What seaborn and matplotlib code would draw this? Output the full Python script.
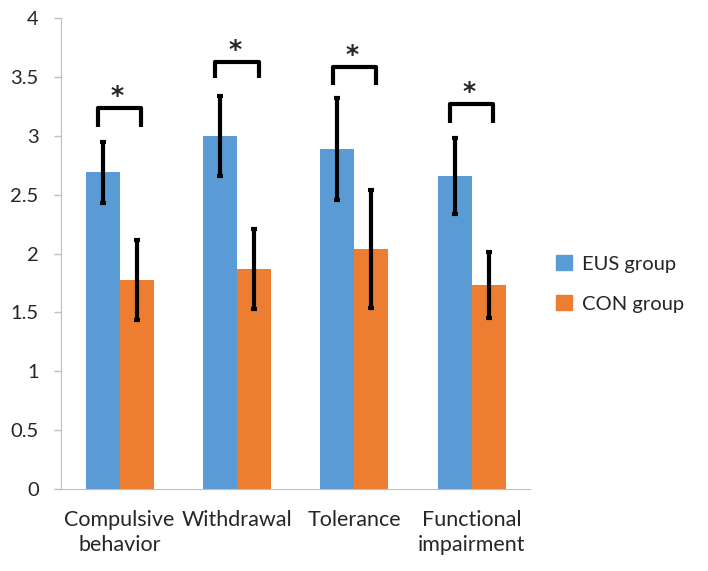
import numpy as np
import pandas as pd
import matplotlib
matplotlib.use("Agg")
import matplotlib.pyplot as plt
import seaborn as sns

categories = ["Compulsive\nbehavior", "Withdrawal", "Tolerance", "Functional\nimpairment"]
groups = ["EUS group", "CON group"]
eus_mean = [2.69, 3.00, 2.89, 2.66]
con_mean = [1.78, 1.87, 2.04, 1.73]
eus_err = [0.26, 0.34, 0.43, 0.32]
con_err = [0.34, 0.34, 0.50, 0.28]
# significance brackets: (top, leg bottom) per category
bracket_top = [3.24, 3.63, 3.59, 3.27]
bracket_low = [3.08, 3.49, 3.43, 3.11]
yticks = [0, 0.5, 1, 1.5, 2, 2.5, 3, 3.5, 4]

data = pd.DataFrame({
    "category": categories * 2,
    "group": [groups[0]] * 4 + [groups[1]] * 4,
    "value": eus_mean + con_mean,
})
errs = {groups[0]: eus_err, groups[1]: con_err}

sns.set_style("white")
plt.rcParams["font.family"] = ["Lato", "DejaVu Sans"]

fig = plt.figure(figsize=(7.08, 5.71), dpi=100)
ax = fig.add_axes([0.086, 0.1436, 0.663, 0.8244])

palette = {"EUS group": "#5B9BD5", "CON group": "#ED7D31"}
sns.barplot(data=data, x="category", y="value", hue="group", palette=palette,
            width=0.58, errorbar=None, ax=ax, saturation=1, linewidth=0)

# error bars on each bar
for cont, g in zip(ax.containers, groups):
    xs = [p.get_x() + p.get_width() / 2 for p in cont.patches]
    ys = [p.get_height() for p in cont.patches]
    ax.errorbar(xs, ys, yerr=errs[g], fmt="none", ecolor="black",
                elinewidth=3, capsize=2.5, capthick=3, zorder=5)

# significance brackets
for i in range(len(categories)):
    x0, x1 = i - 0.185, i + 0.185
    ax.plot([x0, x0, x1, x1], [bracket_low[i], bracket_top[i], bracket_top[i], bracket_low[i]],
            color="black", lw=3, solid_joinstyle="round", solid_capstyle="butt", zorder=5)
    ax.text(i - 0.02, bracket_top[i] + 0.1, "*", ha="center", va="center", fontsize=18,
            family="DejaVu Sans", fontweight="bold")

ax.set_ylim(0, 4)
ax.set_xlim(-0.5, 3.5)
ax.set_yticks(yticks)
ax.set_yticklabels([f"{t:g}" for t in yticks], fontsize=14.5)
ax.set_xticks([-0.5, 0.5, 1.5, 2.5, 3.5], minor=False)
ax.set_xticklabels([])
ax.set_xticks(range(4), minor=True)
ax.set_xticklabels(categories, minor=True, fontsize=15.5, linespacing=1.3)
ax.tick_params(axis="x", which="minor", length=0, pad=15)
ax.tick_params(axis="x", which="major", length=6, color="#BFBFBF", width=1)
ax.tick_params(axis="y", length=5, color="#BFBFBF", width=1, pad=11, left=True)
ax.set_xlabel("")
ax.set_ylabel("")
for s in ["top", "right"]:
    ax.spines[s].set_visible(False)
for s in ["left", "bottom"]:
    ax.spines[s].set_color("#BFBFBF")

ax.legend_.remove()
handles = [plt.Rectangle((0, 0), 1, 1, color=palette[g]) for g in groups]
fig.legend(handles, groups, loc="center left", bbox_to_anchor=(0.785, 0.503), frameon=False,
           fontsize=14.5, handlelength=0.8, handleheight=0.8, labelspacing=1.1,
           borderaxespad=0, borderpad=0, handletextpad=0.5)

fig.savefig("out.png", dpi=100)
